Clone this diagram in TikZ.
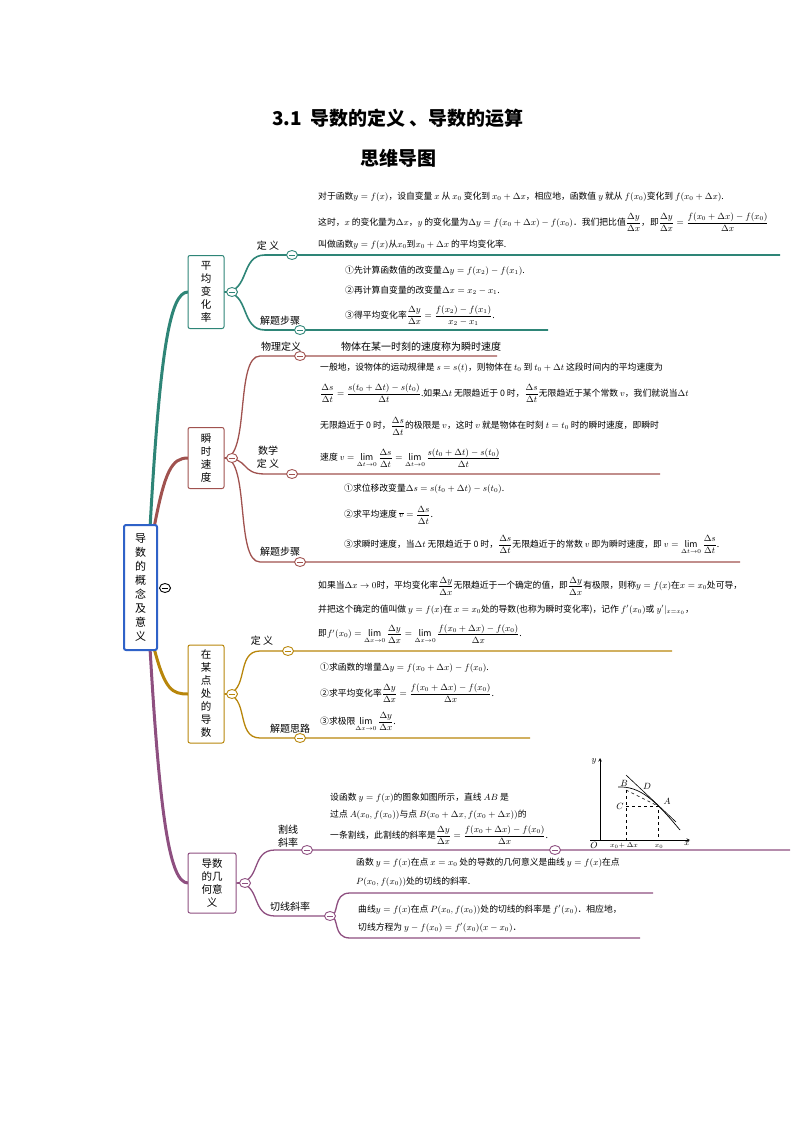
\documentclass[tikz,border=0pt]{standalone}
\usepackage{fontspec}
\setmainfont{Noto Sans CJK SC}
\usepackage{amsmath}
\begin{document}
\begin{tikzpicture}[x=1pt,y=-1pt,
  t/.style={anchor=west,inner sep=0pt,font=\fontsize{8.8}{10}\selectfont},
  lab/.style={inner sep=0pt,font=\fontsize{10}{13}\selectfont,align=center},
  l1/.style={draw,rounded corners=2pt,line width=1pt,inner sep=3pt,font=\fontsize{10.5}{13}\selectfont,align=center,fill=white},
  mn/.style={draw,fill=white,ellipse,minimum width=11pt,minimum height=9pt,inner sep=0pt,line width=0.9pt,path picture={\draw[line width=0.8pt] ([xshift=-2.8pt]path picture bounding box.center)--([xshift=2.8pt]path picture bounding box.center);}}]
\usetikzlibrary{shapes.geometric}
\definecolor{cteal}{HTML}{2E8577}
\definecolor{cred}{HTML}{A0524F}
\definecolor{cgold}{HTML}{B8860B}
\definecolor{cpur}{HTML}{8E4F80}
\definecolor{cblue}{HTML}{2F62C8}
\useasboundingbox (0,0) rectangle (794,1123);
\node[font=\bfseries\fontsize{19}{22}\selectfont] (title) at (398,118) {3.1\ \ 导数的定义 、导数的运算};
\node[font=\bfseries\fontsize{19}{22}\selectfont] (sub) at (398,158) {思维导图};
% connectors from root
\draw[cteal,line width=3pt] (150,528) .. controls (160,350) and (170,292) .. (188,292);
\draw[cred,line width=3pt] (154,528) .. controls (165,470) and (172,458) .. (188,458);
\draw[cgold,line width=3pt] (154,648) .. controls (165,690) and (172,694) .. (188,694);
\draw[cpur,line width=3pt] (150,648) .. controls (160,820) and (170,883) .. (188,883);
\node[draw=cblue,line width=2pt,rounded corners=2pt,fill=white,font=\fontsize{11}{14}\selectfont,align=center,minimum width=33pt,minimum height=125pt] (root) at (140.5,587.5) {导\\数\\的\\概\\念\\及\\意\\义};
\node[mn,draw=black] (rm) at (165,588) {};
% ===== 平均变化率
\node[l1,draw=cteal,minimum width=36pt,minimum height=73pt] (a) at (206,292) {平\\均\\变\\化\\率};
\draw[cteal,line width=1.6pt] (a.east) .. controls (250,292) and (240,255) .. (265,255) -- (780,255);
\draw[cteal,line width=1.6pt] (a.east) .. controls (250,292) and (240,330) .. (265,330) -- (548,330);
\node[mn,draw=cteal] (am) at (232,292) {};
\node[mn,draw=cteal] (a1m) at (292,255) {};
\node[mn,draw=cteal] (a2m) at (300,330) {};
\node[lab] (a1) at (268,246) {定 义};
\node[lab] (a2) at (280,321) {解题步骤};
\node[t] (a1t1) at (318,197) {对于函数$y=f(x)$，设自变量 $x$ 从 $x_0$ 变化到 $x_0+\Delta x$，相应地，函数值 $y$ 就从 $f(x_0)$变化到 $f(x_0+\Delta x)$.};
\node[t] (a1t2) at (318,222) {这时，$x$ 的变化量为$\Delta x$，$y$ 的变化量为$\Delta y=f(x_0+\Delta x)-f(x_0)$．我们把比值$\dfrac{\Delta y}{\Delta x}$，即$\dfrac{\Delta y}{\Delta x}=\dfrac{f(x_0+\Delta x)-f(x_0)}{\Delta x}$};
\node[t] (a1t3) at (318,245) {叫做函数$y=f(x)$从$x_0$到$x_0+\Delta x$ 的平均变化率.};
\node[t] (a2t1) at (345,271) {①先计算函数值的改变量$\Delta y=f(x_2)-f(x_1)$.};
\node[t] (a2t2) at (345,290) {②再计算自变量的改变量$\Delta x=x_2-x_1$.};
\node[t] (a2t3) at (345,316) {③得平均变化率$\dfrac{\Delta y}{\Delta x}=\dfrac{f(x_2)-f(x_1)}{x_2-x_1}$.};
% ===== 瞬时速度
\node[l1,draw=cred,minimum width=36pt,minimum height=61pt] (b) at (206,458) {瞬\\时\\速\\度};
\draw[cred,line width=1.3pt] (b.east) .. controls (250,458) and (235,356) .. (260,356) -- (497,356);
\draw[cred,line width=1.3pt] (b.east) .. controls (250,458) and (240,474) .. (265,474) -- (660,474);
\draw[cred,line width=1.3pt] (b.east) .. controls (250,458) and (235,562) .. (260,562) -- (740,562);
\node[mn,draw=cred] (bm) at (232,458) {};
\node[mn,draw=cred] (b1m) at (300,356) {};
\node[mn,draw=cred] (b2m) at (292,474) {};
\node[mn,draw=cred] (b3m) at (300,562) {};
\node[lab] (b1) at (281,347) {物理定义};
\node[lab] (b2) at (268,457) {数学\\定 义};
\node[lab] (b3) at (280,552) {解题步骤};
\node[t,font=\fontsize{10}{12}\selectfont] (b1t) at (341,347) {物体在某一时刻的速度称为瞬时速度};
\node[t] (b2t1) at (320,368) {一般地，设物体的运动规律是 $s=s(t)$，则物体在 $t_0$ 到 $t_0+\Delta t$ 这段时间内的平均速度为};
\node[t] (b2t2) at (320,393) {$\dfrac{\Delta s}{\Delta t}=\dfrac{s(t_0+\Delta t)-s(t_0)}{\Delta t}$.如果$\Delta t$ 无限趋近于 0 时，$\dfrac{\Delta s}{\Delta t}$无限趋近于某个常数 $v$，我们就说当$\Delta t$};
\node[t] (b2t3) at (320,426) {无限趋近于 0 时，$\dfrac{\Delta s}{\Delta t}$的极限是 $v$，这时 $v$ 就是物体在时刻 $t=t_0$ 时的瞬时速度，即瞬时};
\node[t] (b2t4) at (320,458) {速度 $v=\lim\limits_{\Delta t\to 0}\dfrac{\Delta s}{\Delta t}=\lim\limits_{\Delta t\to 0}\dfrac{s(t_0+\Delta t)-s(t_0)}{\Delta t}$};
\node[t] (b3t1) at (344,489) {①求位移改变量$\Delta s=s(t_0+\Delta t)-s(t_0)$.};
\node[t] (b3t2) at (344,515) {②求平均速度 $\overline{v}=\dfrac{\Delta s}{\Delta t}$.};
\node[t] (b3t3) at (344,545) {③求瞬时速度，当$\Delta t$ 无限趋近于 0 时，$\dfrac{\Delta s}{\Delta t}$无限趋近于的常数 $v$ 即为瞬时速度，即 $v=\lim\limits_{\Delta t\to 0}\dfrac{\Delta s}{\Delta t}$.};
% ===== 在某点处的导数
\node[l1,draw=cgold,minimum width=36pt,minimum height=98pt] (c) at (206,694) {在\\某\\点\\处\\的\\导\\数};
\draw[cgold,line width=1.3pt] (c.east) .. controls (250,694) and (235,651) .. (260,651) -- (672,651);
\draw[cgold,line width=1.3pt] (c.east) .. controls (250,694) and (235,738) .. (260,738) -- (530,738);
\node[mn,draw=cgold] (cm) at (232,694) {};
\node[mn,draw=cgold] (c1m) at (288,651) {};
\node[mn,draw=cgold] (c2m) at (300,738) {};
\node[lab] (c1) at (262,641) {定 义};
\node[lab] (c2) at (290,729) {解题思路};
\node[t] (c1t1) at (318,586) {如果当$\Delta x\to 0$时，平均变化率$\dfrac{\Delta y}{\Delta x}$无限趋近于一个确定的值，即$\dfrac{\Delta y}{\Delta x}$有极限，则称$y=f(x)$在$x=x_0$处可导，};
\node[t] (c1t2) at (318,610) {并把这个确定的值叫做 $y=f(x)$在 $x=x_0$处的导数(也称为瞬时变化率)，记作 $f'(x_0)$或 $y'|_{x=x_0}$，};
\node[t] (c1t3) at (318,634) {即$f'(x_0)=\lim\limits_{\Delta x\to 0}\dfrac{\Delta y}{\Delta x}=\lim\limits_{\Delta x\to 0}\dfrac{f(x_0+\Delta x)-f(x_0)}{\Delta x}$.};
\node[t] (c2t1) at (320,668) {①求函数的增量$\Delta y=f(x_0+\Delta x)-f(x_0)$.};
\node[t] (c2t2) at (320,693) {②求平均变化率$\dfrac{\Delta y}{\Delta x}=\dfrac{f(x_0+\Delta x)-f(x_0)}{\Delta x}$.};
\node[t] (c2t3) at (320,722) {③求极限$\lim\limits_{\Delta x\to 0}\dfrac{\Delta y}{\Delta x}$.};
% ===== 导数的几何意义
\node[l1,draw=cpur,minimum width=48pt,minimum height=60pt] (d) at (212,883) {导数\\的几\\何意\\义};
\draw[cpur,line width=1.3pt] (d.east) .. controls (262,883) and (250,850) .. (275,850) -- (790,850);
\draw[cpur,line width=1.3pt] (d.east) .. controls (262,883) and (250,916) .. (275,916) -- (330,916);
\draw[cpur,line width=1.3pt] (330,916) .. controls (340,916) and (332,893) .. (350,893) -- (653,893);
\draw[cpur,line width=1.3pt] (330,916) .. controls (340,916) and (332,938) .. (350,938) -- (640,938);
\node[mn,draw=cpur] (dm) at (245,883) {};
\node[mn,draw=cpur] (d1m) at (307,850) {};
\node[mn,draw=cpur] (d1m2) at (555,850) {};
\node[mn,draw=cpur] (d2m) at (330,916) {};
\node[lab] (d1) at (288,836) {割线\\斜率};
\node[lab] (d2) at (290,907) {切线斜率};
\node[t] (d1t1) at (330,798) {设函数 $y=f(x)$的图象如图所示，直线 $AB$ 是};
\node[t] (d1t2) at (330,815) {过点 $A(x_0,f(x_0))$与点 $B(x_0+\Delta x,f(x_0+\Delta x))$的};
\node[t] (d1t3) at (330,835) {一条割线，此割线的斜率是$\dfrac{\Delta y}{\Delta x}=\dfrac{f(x_0+\Delta x)-f(x_0)}{\Delta x}$.};
\node[t] (d2t1) at (356,863) {函数 $y=f(x)$在点 $x=x_0$ 处的导数的几何意义是曲线 $y=f(x)$在点};
\node[t] (d2t2) at (356,882) {$P(x_0,f(x_0))$处的切线的斜率.};
\node[t] (d2t3) at (358,910) {曲线$y=f(x)$在点 $P(x_0,f(x_0))$处的切线的斜率是 $f'(x_0)$．相应地，};
\node[t] (d2t4) at (358,928) {切线方程为 $y-f(x_0)=f'(x_0)(x-x_0)$．};
% graph
\coordinate (O) at (600,840);
\draw[-stealth,line width=0.6pt] (O) -- (600,758) coordinate (yy);
\draw[-stealth,line width=0.6pt] (590,840) -- (690,840) coordinate (xx);
\node[font=\fontsize{9}{10}\selectfont] (ly) at (594,761) {$y$};
\node[font=\fontsize{9}{10}\selectfont] (lx) at (687,844) {$x$};
\node[font=\fontsize{9}{10}\selectfont] (lo) at (594,845) {$O$};
\draw[line width=0.7pt] (618,787) .. controls (640,786) and (655,800) .. (680,830);
\draw[line width=0.6pt] (626,775) -- (676,822);
\draw[dashed,line width=0.5pt] (626,790) -- (658,806);
\draw[dashed,line width=0.5pt] (626,806) -- (658,806) -- (658,840);
\draw[dashed,line width=0.5pt] (626,790) -- (626,840);
\node[font=\fontsize{9}{10}\selectfont] (lB) at (624,783) {$B$};
\node[font=\fontsize{9}{10}\selectfont] (lD) at (647,786) {$D$};
\node[font=\fontsize{9}{10}\selectfont] (lA) at (667,801) {$A$};
\node[font=\fontsize{9}{10}\selectfont] (lC) at (620,806) {$C$};
\node[font=\fontsize{7}{8}\selectfont] (lx1) at (624,846) {$x_0\!+\Delta x$};
\node[font=\fontsize{7}{8}\selectfont] (lx0) at (659,846) {$x_0$};
\end{tikzpicture}
\end{document}
